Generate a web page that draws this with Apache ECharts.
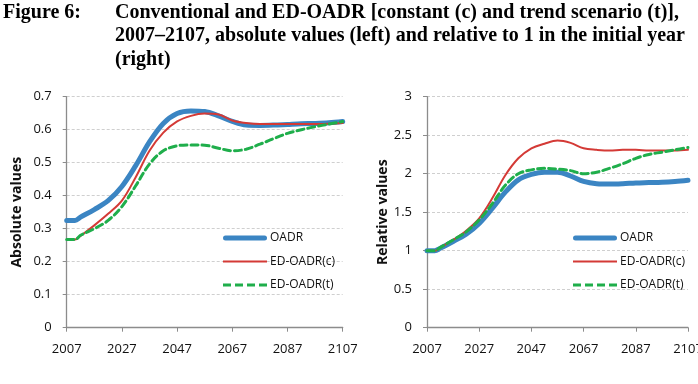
<!DOCTYPE html>
<html><head><meta charset="utf-8">
<script src="https://cdn.jsdelivr.net/npm/echarts@6/dist/echarts.min.js"></script>
<style>html,body{margin:0;padding:0;background:#fff}#c{width:698px;height:384px}</style>
</head><body><div id="c"></div>
<script>
var years = [2007,2010,2012,2017,2022,2027,2032,2037,2042,2047,2052,2057,2062,2067,2072,2077,2082,2087,2092,2097,2102,2107];
// absolute values (left)
var oadrAbs = [0.325,0.325,0.335,0.358,0.385,0.428,0.491,0.563,0.619,0.649,0.657,0.655,0.642,0.625,0.614,0.613,0.614,0.616,0.618,0.619,0.621,0.625];
var edcAbs  = [0.267,0.267,0.278,0.31,0.345,0.385,0.456,0.536,0.591,0.625,0.642,0.649,0.646,0.628,0.62,0.617,0.617,0.617,0.617,0.617,0.618,0.62];
var edtAbs  = [0.267,0.267,0.28,0.30,0.325,0.367,0.43,0.496,0.536,0.551,0.554,0.553,0.544,0.536,0.541,0.556,0.573,0.589,0.60,0.609,0.617,0.625];
// relative values (right)
var oadrRel = [1.0,1.0,1.03,1.12,1.215,1.355,1.55,1.76,1.92,1.99,2.02,2.02,1.97,1.90,1.87,1.865,1.87,1.88,1.885,1.89,1.90,1.915];
var edcRel  = [1.0,1.0,1.04,1.14,1.26,1.42,1.68,1.98,2.20,2.33,2.39,2.43,2.40,2.33,2.31,2.30,2.31,2.31,2.30,2.30,2.30,2.31];
var edtRel  = [1.0,1.0,1.04,1.14,1.245,1.40,1.61,1.85,2.0,2.05,2.07,2.06,2.04,2.0,2.02,2.07,2.13,2.2,2.25,2.28,2.31,2.34];
var seriesNames = ['OADR','ED-OADR(c)','ED-OADR(t)'];
var leftTicks = {min:0, max:0.7, interval:0.1};
var rightTicks = {min:0, max:3, interval:0.5};
var xTicks = {start:2007, end:2107, step:20};
var titleLines = ['Conventional and ED-OADR [constant (c) and trend scenario (t)],',
                  '2007\u20132107, absolute values (left) and relative to 1 in the initial year',
                  '(right)'];

var BLUE='#3b85c3', RED='#d43a36', GREEN='#1fae4b';
function pts(vals){ return years.map(function(y,i){ return [y - xTicks.start, vals[i]]; }); }
var styles = {
  'OADR': {color:BLUE, width:5, type:'solid',
     icon:'path://M0,0M2.5,3.5H41.5A2.5,2.5,0,0,1,41.5,8.5H2.5A2.5,2.5,0,0,1,2.5,3.5ZM44,12'},
  'ED-OADR(c)': {color:RED, width:2, type:'solid', icon:'path://M0,0M0,5H44V7H0ZM44,12'},
  'ED-OADR(t)': {color:GREEN, width:3, type:[7,4],
     icon:'path://M0,0M0,4.5H8V7.5H0ZM12,4.5H20V7.5H12ZM24,4.5H32V7.5H24ZM36,4.5H44V7.5H36ZM44,12'}
};
function mk(name, vals, idx){
  var st = styles[name];
  return {name:name, type:'line', xAxisIndex:idx, yAxisIndex:idx, data:pts(vals),
    smooth:0.35, symbol:'none', showSymbol:false, color:st.color,
    lineStyle:{color:st.color, width:st.width, type:st.type, cap:'round'},
    z: name==='OADR'?1:(name==='ED-OADR(c)'?2:3)};
}
var font = '"Open Sans", Lato, sans-serif';
function xAxis(idx){
  return {type:'value', gridIndex:idx, min:0, max:xTicks.end-xTicks.start, interval:xTicks.step,
    axisLine:{lineStyle:{color:'#8c8c8c', width:1.3}},
    axisTick:{show:true, length:4, lineStyle:{color:'#8c8c8c'}},
    splitLine:{show:false},
    axisLabel:{color:'#111', fontSize:13, fontFamily:font, margin:15,
      formatter:function(v){return String(v+xTicks.start);}, showMaxLabel:true, hideOverlap:false}};
}
function yAxis(idx, t, name, gap){
  return {type:'value', gridIndex:idx, min:t.min, max:t.max, interval:t.interval,
    name:name, nameLocation:'middle', nameGap:gap, nameRotate:90,
    nameTextStyle:{color:'#111', fontSize:14, fontWeight:'bold', fontFamily:font},
    axisLine:{show:true, lineStyle:{color:'#8c8c8c', width:1.3}},
    axisTick:{show:true, length:4, lineStyle:{color:'#8c8c8c'}},
    splitLine:{show:true, lineStyle:{color:'#cfcfcf', type:[3,2], width:1}},
    axisLabel:{color:'#111', fontSize:13, fontFamily:font, margin:15}};
}
function legend(left){
  return {orient:'vertical', left:left, top:227, itemWidth:44, itemHeight:12, itemGap:11.5,
    data:seriesNames.map(function(n){return {name:n, icon:styles[n].icon};}), selectedMode:false,
    textStyle:{color:'#111', fontSize:12, fontFamily:font, padding:[0,0,0,-2]}};
}
// title, justified like the source paragraph
var TFONT = 'bold 20px "Liberation Serif", "Times New Roman", serif';
var ctx = document.createElement('canvas').getContext('2d'); ctx.font = TFONT;
function lineGraphics(text, x0, y, x1){
  var words = text.split(' ');
  if (!x1) return [{type:'text', x:x0, y:y, style:{text:text, font:TFONT, fill:'#000', verticalAlign:'top'}}];
  var total = 0; words.forEach(function(w){ total += ctx.measureText(w).width; });
  var gap = (x1 - x0 - total) / (words.length - 1), x = x0, out = [];
  words.forEach(function(w){
    out.push({type:'text', x:x, y:y, style:{text:w, font:TFONT, fill:'#000', verticalAlign:'top'}});
    x += ctx.measureText(w).width + gap;
  });
  return out;
}
var graphics = [{type:'text', x:3, y:2.5, style:{text:'Figure 6:', font:TFONT, fill:'#000', verticalAlign:'top'}}]
  .concat(lineGraphics(titleLines[0], 115, 2.5, 679))
  .concat(lineGraphics(titleLines[1], 115, 25.7, 685))
  .concat(lineGraphics(titleLines[2], 115, 49.5, 0));

var chart = echarts.init(document.getElementById('c'), null, {renderer:'canvas'});
chart.setOption({
  animation:false,
  backgroundColor:'#fff',
  grid:[{left:66.7, top:96.7, width:276, height:231, outerBoundsMode:'none'},
        {left:427, top:96.7, width:261, height:231, outerBoundsMode:'none'}],
  xAxis:[xAxis(0), xAxis(1)],
  yAxis:[yAxis(0, leftTicks, 'Absolute values', 43), yAxis(1, rightTicks, 'Relative values', 37)],
  legend:[legend(218), legend(568)],
  series:[mk('OADR',oadrAbs,0), mk('ED-OADR(c)',edcAbs,0), mk('ED-OADR(t)',edtAbs,0),
          mk('OADR',oadrRel,1), mk('ED-OADR(c)',edcRel,1), mk('ED-OADR(t)',edtRel,1)],
  graphic:graphics
});
</script></body></html>
